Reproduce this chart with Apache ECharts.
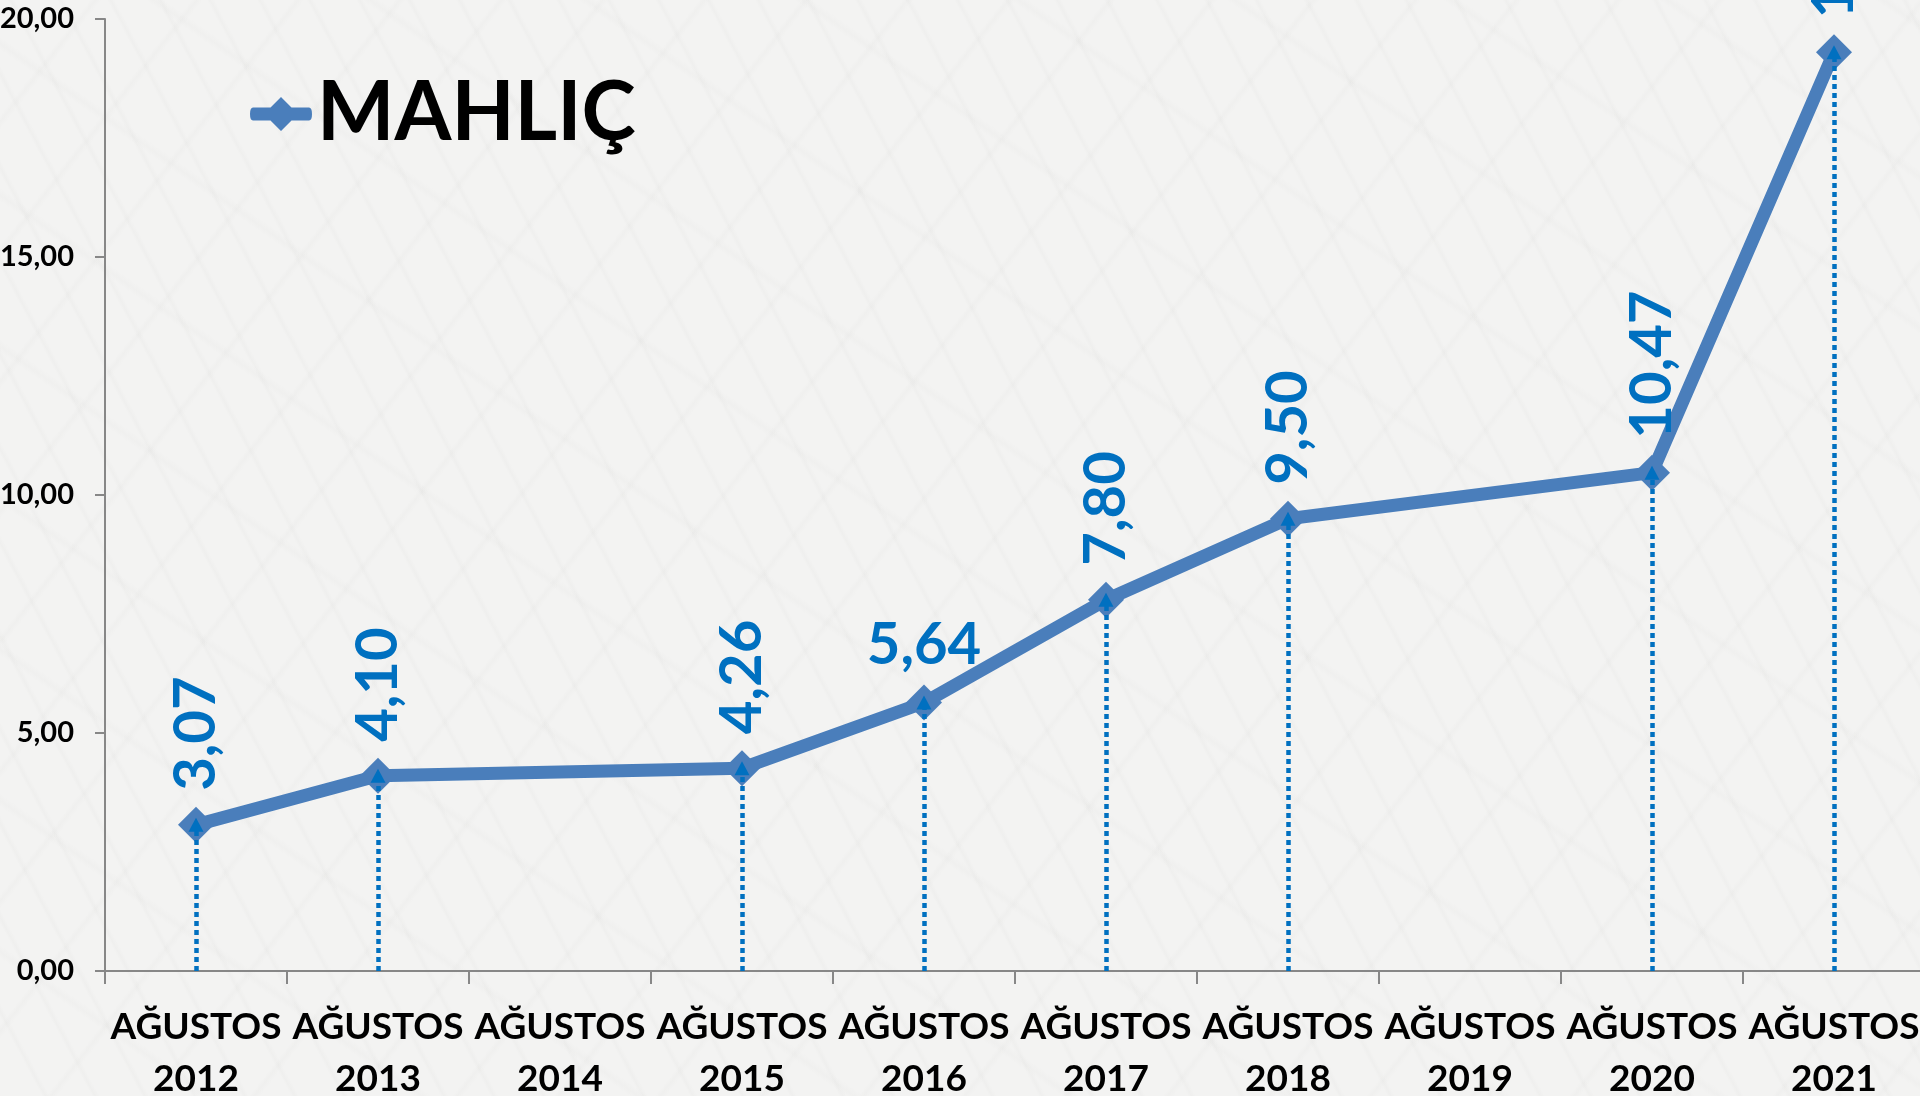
<!DOCTYPE html>
<html>
<head>
<meta charset="utf-8">
<script src="https://cdn.jsdelivr.net/npm/echarts@6/dist/echarts.min.js"></script>
<style>
html,body{margin:0;padding:0;overflow:hidden;}
body{
  background-color:#f3f3f2;
  background-image:
    repeating-linear-gradient(62deg, rgba(0,0,0,0) 0px, rgba(0,0,0,0) 37px, rgba(120,120,115,0.03) 40px, rgba(0,0,0,0) 44px),
    repeating-linear-gradient(128deg, rgba(0,0,0,0) 0px, rgba(0,0,0,0) 71px, rgba(120,120,115,0.028) 75px, rgba(0,0,0,0) 80px),
    repeating-linear-gradient(35deg, rgba(0,0,0,0) 0px, rgba(0,0,0,0) 113px, rgba(110,110,105,0.025) 118px, rgba(0,0,0,0) 124px);
}
#chart{width:1920px;height:1096px;}
</style>
</head>
<body>
<div id="chart"></div>
<script>
const seriesName = 'MAHLIÇ';
const categories = ['AĞUSTOS\n2012','AĞUSTOS\n2013','AĞUSTOS\n2014','AĞUSTOS\n2015','AĞUSTOS\n2016','AĞUSTOS\n2017','AĞUSTOS\n2018','AĞUSTOS\n2019','AĞUSTOS\n2020','AĞUSTOS\n2021'];
const values = [3.07, 4.10, null, 4.26, 5.64, 7.80, 9.50, null, 10.47, 19.30];
const yTicks = [0, 5, 10, 15, 20];
const horizontalLabelIdx = [4];

const fmt = v => Number(v).toFixed(2).replace('.', ',');
const blue = '#0070C0';
const lineBlue = '#4A7EBB';
const FONT = 'Lato';
// legend icon: thick line with a diamond in the middle (62 x 34 box)
const legendIcon = 'path://M3,10.5 L20.5,10.5 L31,0 L41.5,10.5 L59,10.5 Q62,10.5 62,17 Q62,23.5 59,23.5 L41.5,23.5 L31,34 L20.5,23.5 L3,23.5 Q0,23.5 0,17 Q0,10.5 3,10.5 Z';

const seriesData = values.map((v, i) => {
  if (v === null) return null;
  if (horizontalLabelIdx.includes(i)) {
    return { value: v, label: { rotate: 0, align: 'center', verticalAlign: 'bottom', distance: 10 } };
  }
  return v;
});

const dropLines = [];
values.forEach((v, i) => {
  if (v === null) return;
  dropLines.push([{ coord: [categories[i], 0] }, { coord: [categories[i], v] }]);
});

const chart = echarts.init(document.getElementById('chart'), null, { renderer: 'canvas' });
chart.setOption({
  backgroundColor: 'transparent',
  animation: false,
  textStyle: { fontFamily: FONT },
  legend: {
    left: 245, top: 68,
    icon: legendIcon,
    itemWidth: 62, itemHeight: 34, itemGap: 2,
    itemStyle: { color: lineBlue },
    textStyle: { fontFamily: FONT, fontWeight: 'bold', fontSize: 82, color: '#000' },
    data: [seriesName]
  },
  grid: { left: 105, top: 19, right: -5, bottom: 125, containLabel: false, outerBoundsMode: 'none' },
  xAxis: {
    type: 'category',
    data: categories,
    boundaryGap: true,
    axisLine: { lineStyle: { color: '#878787', width: 2 } },
    axisTick: { show: true, length: 13, lineStyle: { color: '#878787', width: 2 }, alignWithLabel: false },
    axisLabel: {
      interval: 0, margin: 30, color: '#000',
      fontFamily: FONT, fontWeight: 'bold', fontSize: 37, lineHeight: 52
    },
    splitLine: { show: false }
  },
  yAxis: {
    type: 'value',
    min: yTicks[0], max: yTicks[yTicks.length - 1], interval: 5,
    axisLine: { show: true, lineStyle: { color: '#878787', width: 2 } },
    axisTick: { show: true, length: 10, lineStyle: { color: '#878787', width: 2 } },
    axisLabel: { margin: 31, color: '#000', fontFamily: FONT, fontWeight: 'bold', fontSize: 29, formatter: v => fmt(v) },
    splitLine: { show: false }
  },
  series: [{
    name: seriesName,
    type: 'line',
    data: seriesData,
    connectNulls: true,
    symbol: 'diamond',
    symbolSize: 36,
    itemStyle: { color: lineBlue },
    lineStyle: { color: lineBlue, width: 13 },
    label: {
      show: true, position: 'top', rotate: 90, align: 'left', verticalAlign: 'middle',
      distance: 16, color: blue, fontFamily: FONT, fontWeight: 'bold', fontSize: 58,
      formatter: p => fmt(p.value)
    },
    emphasis: { disabled: true },
    markLine: {
      silent: true,
      symbol: ['none', 'triangle'],
      symbolSize: [15, 14],
      label: { show: false },
      lineStyle: { color: blue, width: 4.5, type: [5, 4] },
      emphasis: { disabled: true },
      data: dropLines
    }
  }]
});
</script>
</body>
</html>
